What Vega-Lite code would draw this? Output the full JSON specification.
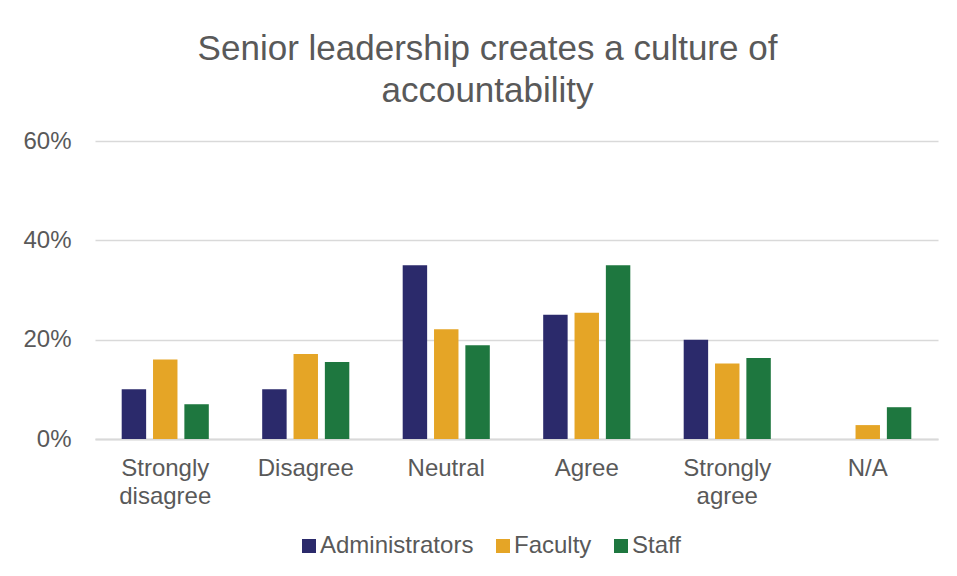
{
  "$schema": "https://vega.github.io/schema/vega-lite/v6.json",
  "autosize": "none",
  "width": 843,
  "height": 298,
  "padding": {"left": 95, "top": 141, "right": 19, "bottom": 137},
  "background": "white",
  "title": {
    "text": ["Senior leadership creates a culture of", "accountability"],
    "fontSize": 35,
    "font": "Liberation Sans",
    "fontWeight": "normal",
    "color": "#595959",
    "lineHeight": 42,
    "anchor": "middle",
    "dx": -29,
    "offset": 20
  },
  "data": {
    "values": [
      {"category": "Strongly disagree", "group": "Administrators", "value": 0.10},
      {"category": "Strongly disagree", "group": "Faculty", "value": 0.16},
      {"category": "Strongly disagree", "group": "Staff", "value": 0.07},
      {"category": "Disagree", "group": "Administrators", "value": 0.10},
      {"category": "Disagree", "group": "Faculty", "value": 0.171},
      {"category": "Disagree", "group": "Staff", "value": 0.155},
      {"category": "Neutral", "group": "Administrators", "value": 0.35},
      {"category": "Neutral", "group": "Faculty", "value": 0.221},
      {"category": "Neutral", "group": "Staff", "value": 0.189},
      {"category": "Agree", "group": "Administrators", "value": 0.25},
      {"category": "Agree", "group": "Faculty", "value": 0.254},
      {"category": "Agree", "group": "Staff", "value": 0.35},
      {"category": "Strongly agree", "group": "Administrators", "value": 0.20},
      {"category": "Strongly agree", "group": "Faculty", "value": 0.152},
      {"category": "Strongly agree", "group": "Staff", "value": 0.163},
      {"category": "N/A", "group": "Administrators", "value": 0.0},
      {"category": "N/A", "group": "Faculty", "value": 0.028},
      {"category": "N/A", "group": "Staff", "value": 0.064}
    ]
  },
  "mark": {"type": "bar"},
  "encoding": {
    "x": {
      "field": "category",
      "type": "nominal",
      "sort": ["Strongly disagree", "Disagree", "Neutral", "Agree", "Strongly agree", "N/A"],
      "scale": {"paddingInner": 0.38, "paddingOuter": 0.19},
      "axis": {
        "title": null,
        "labelAngle": 0,
        "labelExpr": "split(datum.label, ' ')",
        "labelFontSize": 24,
        "labelFont": "Liberation Sans",
        "labelColor": "#595959",
        "labelLineHeight": 28,
        "labelPadding": 17,
        "ticks": false,
        "domainColor": "#d9d9d9",
        "domainWidth": 2,
        "grid": false
      }
    },
    "xOffset": {
      "field": "group",
      "type": "nominal",
      "sort": ["Administrators", "Faculty", "Staff"],
      "scale": {"paddingInner": 0.22}
    },
    "y": {
      "field": "value",
      "type": "quantitative",
      "scale": {"domain": [0, 0.6]},
      "axis": {
        "title": null,
        "format": ".0%",
        "values": [0, 0.2, 0.4, 0.6],
        "labelFontSize": 24,
        "labelFont": "Liberation Sans",
        "labelColor": "#595959",
        "labelPadding": 24,
        "ticks": false,
        "domain": false,
        "gridColor": "#d9d9d9",
        "gridWidth": 1.5
      }
    },
    "color": {
      "field": "group",
      "type": "nominal",
      "sort": ["Administrators", "Faculty", "Staff"],
      "scale": {
        "domain": ["Administrators", "Faculty", "Staff"],
        "range": ["#2b2a6b", "#e5a526", "#1e773f"]
      },
      "legend": {
        "title": null,
        "orient": "none",
        "legendX": 202,
        "legendY": 393,
        "direction": "horizontal",
        "symbolType": "square",
        "symbolSize": 196,
        "symbolStrokeWidth": 0,
        "labelFontSize": 24,
        "labelFont": "Liberation Sans",
        "labelColor": "#595959",
        "columnPadding": 17,
        "labelOffset": -1
      }
    }
  },
  "config": {
    "view": {"stroke": null}
  }
}
